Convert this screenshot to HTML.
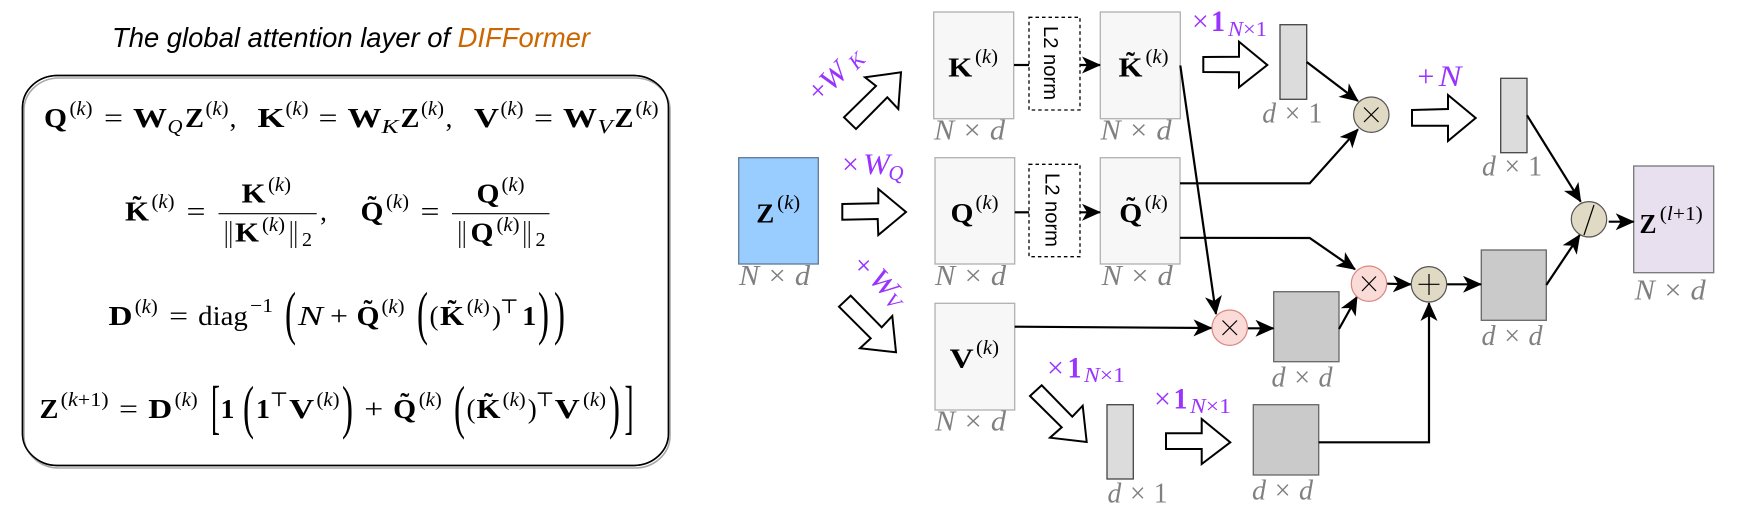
<!DOCTYPE html>
<html><head><meta charset="utf-8"><style>
html,body{margin:0;padding:0;background:#fff}
svg{display:block}
text{font-family:"Liberation Serif","DejaVu Serif",serif;text-anchor:middle;fill:#000}
.b{font-weight:bold;font-size:27px}
.o{font-size:27px}
.s{font-size:20px}
.d{font-size:59px;text-anchor:start}
.g{font-size:28px;font-style:italic;fill:#808080;text-anchor:start}
.p{fill:#9933ff;font-size:30px}
.ps{fill:#9933ff;font-size:21px}
.i{font-style:italic}
.f{fill:#fff;stroke:#000;stroke-width:2}
.c{fill:none;stroke:#000;stroke-width:2.2}
</style></head><body>
<svg width="1738" height="520" viewBox="0 0 1738 520" xmlns="http://www.w3.org/2000/svg">
<defs>
<marker id="a" markerUnits="userSpaceOnUse" markerWidth="22" markerHeight="20" refX="18" refY="8.5" orient="auto"><path d="M19,8.5 L0,0 L5,8.5 L0,17 z" fill="#000"/></marker>
</defs>

<!-- title -->
<text x="112" y="47" style="text-anchor:start;font-family:'Liberation Sans',sans-serif;font-style:italic;font-size:27.4px">The global attention layer of <tspan fill="#cc6600">DIFFormer</tspan></text>

<!-- rounded box -->
<rect x="22.5" y="75.5" width="646" height="390" rx="35" ry="32" fill="#fff" stroke="#000" stroke-width="1.6"/>
<rect x="24" y="78" width="646" height="390" rx="35" ry="32" fill="none" stroke="#a8a8a8" stroke-width="1.6"/>
<rect x="22.5" y="75.5" width="646" height="390" rx="35" ry="32" fill="none" stroke="#000" stroke-width="1.4"/>

<!-- row 1 -->
<text class="b" x="55.5" y="127" textLength="23" lengthAdjust="spacingAndGlyphs">Q</text><text class="s" x="81" y="115" textLength="23" lengthAdjust="spacingAndGlyphs">(<tspan class="i">k</tspan>)</text>
<text class="o" x="113.5" y="127" textLength="19" lengthAdjust="spacingAndGlyphs">=</text>
<text class="b" x="150" y="127" textLength="34" lengthAdjust="spacingAndGlyphs">W</text><text class="s i" x="175" y="133" textLength="15" lengthAdjust="spacingAndGlyphs">Q</text>
<text class="b" x="194.5" y="127" textLength="19" lengthAdjust="spacingAndGlyphs">Z</text><text class="s" x="217" y="115" textLength="23" lengthAdjust="spacingAndGlyphs">(<tspan class="i">k</tspan>)</text><text class="o" x="233" y="127">,</text>
<text class="b" x="271" y="127" textLength="27" lengthAdjust="spacingAndGlyphs">K</text><text class="s" x="297" y="115" textLength="23" lengthAdjust="spacingAndGlyphs">(<tspan class="i">k</tspan>)</text>
<text class="o" x="328" y="127" textLength="19" lengthAdjust="spacingAndGlyphs">=</text>
<text class="b" x="364.5" y="127" textLength="34" lengthAdjust="spacingAndGlyphs">W</text><text class="s i" x="390" y="133" textLength="17" lengthAdjust="spacingAndGlyphs">K</text>
<text class="b" x="410" y="127" textLength="19" lengthAdjust="spacingAndGlyphs">Z</text><text class="s" x="432.5" y="115" textLength="23" lengthAdjust="spacingAndGlyphs">(<tspan class="i">k</tspan>)</text><text class="o" x="449" y="127">,</text>
<text class="b" x="486.5" y="127" textLength="25" lengthAdjust="spacingAndGlyphs">V</text><text class="s" x="512" y="115" textLength="23" lengthAdjust="spacingAndGlyphs">(<tspan class="i">k</tspan>)</text>
<text class="o" x="543.5" y="127" textLength="19" lengthAdjust="spacingAndGlyphs">=</text>
<text class="b" x="580" y="127" textLength="34" lengthAdjust="spacingAndGlyphs">W</text><text class="s i" x="605" y="133" textLength="15" lengthAdjust="spacingAndGlyphs">V</text>
<text class="b" x="624" y="127" textLength="19" lengthAdjust="spacingAndGlyphs">Z</text><text class="s" x="647" y="115" textLength="23" lengthAdjust="spacingAndGlyphs">(<tspan class="i">k</tspan>)</text>

<!-- row 2 -->
<text class="b" x="137" y="220.7" textLength="24" lengthAdjust="spacingAndGlyphs">K</text><text class="b" x="137" y="215">˜</text><text class="s" x="163" y="208" textLength="23" lengthAdjust="spacingAndGlyphs">(<tspan class="i">k</tspan>)</text>
<text class="o" x="196" y="220.7" textLength="19" lengthAdjust="spacingAndGlyphs">=</text>
<text class="b" x="253.5" y="202.7" textLength="24" lengthAdjust="spacingAndGlyphs">K</text><text class="s" x="279.5" y="191" textLength="23" lengthAdjust="spacingAndGlyphs">(<tspan class="i">k</tspan>)</text>
<line x1="218.5" y1="213.7" x2="316.7" y2="213.7" stroke="#000" stroke-width="1.2"/>
<text style="font-size:30px" x="228.5" y="241.7" textLength="9" lengthAdjust="spacingAndGlyphs">||</text><text class="b" x="247" y="241.7" textLength="24" lengthAdjust="spacingAndGlyphs">K</text><text class="s" x="273.5" y="231" textLength="23" lengthAdjust="spacingAndGlyphs">(<tspan class="i">k</tspan>)</text><text style="font-size:30px" x="293.5" y="241.7" textLength="9" lengthAdjust="spacingAndGlyphs">||</text><text class="s" x="307" y="246">2</text>
<text class="o" x="323.5" y="220.7">,</text>
<text class="b" x="372" y="220.7" textLength="23" lengthAdjust="spacingAndGlyphs">Q</text><text class="b" x="372" y="215">˜</text><text class="s" x="397.5" y="208" textLength="23" lengthAdjust="spacingAndGlyphs">(<tspan class="i">k</tspan>)</text>
<text class="o" x="430" y="220.7" textLength="19" lengthAdjust="spacingAndGlyphs">=</text>
<text class="b" x="488" y="202.7" textLength="23" lengthAdjust="spacingAndGlyphs">Q</text><text class="s" x="513" y="191" textLength="23" lengthAdjust="spacingAndGlyphs">(<tspan class="i">k</tspan>)</text>
<line x1="452" y1="213.7" x2="549.5" y2="213.7" stroke="#000" stroke-width="1.2"/>
<text style="font-size:30px" x="462" y="241.7" textLength="9" lengthAdjust="spacingAndGlyphs">||</text><text class="b" x="482" y="241.7" textLength="23" lengthAdjust="spacingAndGlyphs">Q</text><text class="s" x="508" y="231" textLength="23" lengthAdjust="spacingAndGlyphs">(<tspan class="i">k</tspan>)</text><text style="font-size:30px" x="527" y="241.7" textLength="9" lengthAdjust="spacingAndGlyphs">||</text><text class="s" x="540.5" y="246">2</text>

<!-- row 3 -->
<text class="b" x="120.5" y="325" textLength="24" lengthAdjust="spacingAndGlyphs">D</text><text class="s" x="146.3" y="313" textLength="23" lengthAdjust="spacingAndGlyphs">(<tspan class="i">k</tspan>)</text>
<text class="o" x="178.7" y="325" textLength="19" lengthAdjust="spacingAndGlyphs">=</text>
<text class="o" x="223" y="325" textLength="49.6" lengthAdjust="spacingAndGlyphs">diag</text>
<text class="s" x="261.5" y="312" textLength="23" lengthAdjust="spacingAndGlyphs">−1</text>
<text class="d" x="285" y="333" textLength="11" lengthAdjust="spacingAndGlyphs">(</text>
<text class="o i" x="310.5" y="325" textLength="25" lengthAdjust="spacingAndGlyphs">N</text>
<text class="o" x="339" y="325" textLength="18" lengthAdjust="spacingAndGlyphs">+</text>
<text class="b" x="368" y="325" textLength="23" lengthAdjust="spacingAndGlyphs">Q</text><text class="b" x="368" y="319">˜</text><text class="s" x="393" y="313" textLength="23" lengthAdjust="spacingAndGlyphs">(<tspan class="i">k</tspan>)</text>
<text class="d" x="417" y="333" textLength="11" lengthAdjust="spacingAndGlyphs">(</text>
<text class="o" x="434" y="325">(</text>
<text class="b" x="452" y="325" textLength="24" lengthAdjust="spacingAndGlyphs">K</text><text class="b" x="452" y="319">˜</text><text class="s" x="478.3" y="313" textLength="23" lengthAdjust="spacingAndGlyphs">(<tspan class="i">k</tspan>)</text>
<text class="o" x="496.5" y="325">)</text>
<text class="s" x="509.3" y="313">⊤</text>
<text class="b" x="529.3" y="325" textLength="14" lengthAdjust="spacingAndGlyphs">1</text>
<text class="d" x="538" y="333" textLength="11" lengthAdjust="spacingAndGlyphs">)</text>
<text class="d" x="554" y="333" textLength="11" lengthAdjust="spacingAndGlyphs">)</text>

<!-- row 4 -->
<text class="b" x="49" y="418" textLength="19" lengthAdjust="spacingAndGlyphs">Z</text><text class="s" x="84.6" y="406" textLength="48" lengthAdjust="spacingAndGlyphs">(<tspan class="i">k</tspan>+1)</text>
<text class="o" x="128.5" y="418" textLength="19" lengthAdjust="spacingAndGlyphs">=</text>
<text class="b" x="160.3" y="418" textLength="24" lengthAdjust="spacingAndGlyphs">D</text><text class="s" x="186.2" y="406" textLength="23" lengthAdjust="spacingAndGlyphs">(<tspan class="i">k</tspan>)</text>
<text class="d" x="211" y="427" textLength="9" lengthAdjust="spacingAndGlyphs">[</text>
<text class="b" x="227.5" y="418" textLength="14" lengthAdjust="spacingAndGlyphs">1</text>
<text class="d" x="243" y="427" textLength="11" lengthAdjust="spacingAndGlyphs">(</text>
<text class="b" x="263" y="418" textLength="14" lengthAdjust="spacingAndGlyphs">1</text><text class="s" x="279" y="406">⊤</text>
<text class="b" x="301.7" y="418" textLength="25" lengthAdjust="spacingAndGlyphs">V</text><text class="s" x="328" y="406" textLength="23" lengthAdjust="spacingAndGlyphs">(<tspan class="i">k</tspan>)</text>
<text class="d" x="342" y="427" textLength="11" lengthAdjust="spacingAndGlyphs">)</text>
<text class="o" x="373.8" y="418" textLength="19" lengthAdjust="spacingAndGlyphs">+</text>
<text class="b" x="404.7" y="418" textLength="23" lengthAdjust="spacingAndGlyphs">Q</text><text class="b" x="404.7" y="412">˜</text><text class="s" x="430.3" y="406" textLength="23" lengthAdjust="spacingAndGlyphs">(<tspan class="i">k</tspan>)</text>
<text class="d" x="454" y="427" textLength="11" lengthAdjust="spacingAndGlyphs">(</text>
<text class="o" x="471" y="418">(</text>
<text class="b" x="488.5" y="418" textLength="24" lengthAdjust="spacingAndGlyphs">K</text><text class="b" x="488.5" y="412">˜</text><text class="s" x="514.2" y="406" textLength="23" lengthAdjust="spacingAndGlyphs">(<tspan class="i">k</tspan>)</text>
<text class="o" x="532.3" y="418">)</text>
<text class="s" x="545" y="406">⊤</text>
<text class="b" x="567.3" y="418" textLength="25" lengthAdjust="spacingAndGlyphs">V</text><text class="s" x="594.5" y="406" textLength="23" lengthAdjust="spacingAndGlyphs">(<tspan class="i">k</tspan>)</text>
<text class="d" x="609" y="427" textLength="11" lengthAdjust="spacingAndGlyphs">)</text>
<text class="d" x="624.5" y="427" textLength="9" lengthAdjust="spacingAndGlyphs">]</text>

<!-- boxes -->
<g stroke-width="1.3">
<rect x="738.7" y="157.7" width="79.6" height="106.3" fill="#99ccff" stroke="#5f7a96"/>
<rect x="933.7" y="12" width="80" height="106.7" fill="#f7f7f7" stroke="#b0b0b0"/>
<rect x="1100.3" y="12" width="80" height="106.7" fill="#f7f7f7" stroke="#b0b0b0"/>
<rect x="935" y="157.7" width="79.7" height="106.3" fill="#f7f7f7" stroke="#b0b0b0"/>
<rect x="1100.3" y="157.7" width="79.7" height="106.3" fill="#f7f7f7" stroke="#b0b0b0"/>
<rect x="935" y="303.3" width="79.7" height="106.7" fill="#f7f7f7" stroke="#b0b0b0"/>
<rect x="1029" y="17.3" width="51" height="92.7" fill="#fff" stroke="#000" stroke-dasharray="3.5 3"/>
<rect x="1029" y="164.3" width="51" height="92.4" fill="#fff" stroke="#000" stroke-dasharray="3.5 3"/>
<rect x="1280" y="24.7" width="26.7" height="74.6" fill="#dcdcdc" stroke="#444"/>
<rect x="1500.7" y="78.3" width="26.3" height="74.4" fill="#dcdcdc" stroke="#444"/>
<rect x="1107" y="404.7" width="26.3" height="74.3" fill="#dcdcdc" stroke="#444"/>
<rect x="1273.7" y="291.7" width="65.3" height="70" fill="#cacaca" stroke="#666"/>
<rect x="1253.3" y="404.7" width="65.4" height="70.3" fill="#cacaca" stroke="#666"/>
<rect x="1481.3" y="250" width="65" height="70.3" fill="#cacaca" stroke="#666"/>
<rect x="1633.7" y="166" width="80" height="106.7" fill="#e8e0ef" stroke="#777"/>
</g>

<text x="1044" y="26" transform="rotate(90 1044 26)" style="text-anchor:start;font-family:'Liberation Sans',sans-serif;font-size:20px" textLength="74" lengthAdjust="spacingAndGlyphs">L2 norm</text>
<text x="1045.7" y="173" transform="rotate(90 1045.7 173)" style="text-anchor:start;font-family:'Liberation Sans',sans-serif;font-size:20px" textLength="74" lengthAdjust="spacingAndGlyphs">L2 norm</text>

<!-- box labels -->
<text class="b" x="765.3" y="222.7" textLength="18" lengthAdjust="spacingAndGlyphs">Z</text><text class="s" x="788.7" y="209" textLength="23" lengthAdjust="spacingAndGlyphs">(<tspan class="i">k</tspan>)</text>
<text class="b" x="960.3" y="76.7" textLength="24" lengthAdjust="spacingAndGlyphs">K</text><text class="s" x="986.5" y="63" textLength="23" lengthAdjust="spacingAndGlyphs">(<tspan class="i">k</tspan>)</text>
<text class="b" x="1130.5" y="76.7" textLength="24" lengthAdjust="spacingAndGlyphs">K</text><text class="b" x="1130.5" y="71">˜</text><text class="s" x="1157" y="63" textLength="23" lengthAdjust="spacingAndGlyphs">(<tspan class="i">k</tspan>)</text>
<text class="b" x="962" y="222" textLength="23" lengthAdjust="spacingAndGlyphs">Q</text><text class="s" x="987" y="209" textLength="23" lengthAdjust="spacingAndGlyphs">(<tspan class="i">k</tspan>)</text>
<text class="b" x="1130.8" y="222" textLength="23" lengthAdjust="spacingAndGlyphs">Q</text><text class="b" x="1130.8" y="216">˜</text><text class="s" x="1156.3" y="209" textLength="23" lengthAdjust="spacingAndGlyphs">(<tspan class="i">k</tspan>)</text>
<text class="b" x="961.7" y="367.3" textLength="24" lengthAdjust="spacingAndGlyphs">V</text><text class="s" x="987.5" y="354" textLength="23" lengthAdjust="spacingAndGlyphs">(<tspan class="i">k</tspan>)</text>
<text class="b" x="1648" y="233" textLength="17" lengthAdjust="spacingAndGlyphs">Z</text><text class="s" x="1681.3" y="220" textLength="43" lengthAdjust="spacingAndGlyphs">(<tspan class="i">l</tspan>+1)</text>

<!-- dimension labels -->
<text class="g" x="934" y="139.3" textLength="71" lengthAdjust="spacingAndGlyphs">N × d</text>
<text class="g" x="1100.5" y="139.3" textLength="71" lengthAdjust="spacingAndGlyphs">N × d</text>
<text class="g" x="739" y="285" textLength="71" lengthAdjust="spacingAndGlyphs">N × d</text>
<text class="g" x="935" y="285" textLength="71" lengthAdjust="spacingAndGlyphs">N × d</text>
<text class="g" x="1101.7" y="285" textLength="71" lengthAdjust="spacingAndGlyphs">N × d</text>
<text class="g" x="935" y="430.7" textLength="71" lengthAdjust="spacingAndGlyphs">N × d</text>
<text class="g" x="1634.7" y="299.3" textLength="71" lengthAdjust="spacingAndGlyphs">N × d</text>
<text class="g" x="1262.3" y="122.7" textLength="60" lengthAdjust="spacingAndGlyphs">d × <tspan font-style="normal">1</tspan></text>
<text class="g" x="1482" y="175.7" textLength="60" lengthAdjust="spacingAndGlyphs">d × <tspan font-style="normal">1</tspan></text>
<text class="g" x="1107.5" y="502.3" textLength="60" lengthAdjust="spacingAndGlyphs">d × <tspan font-style="normal">1</tspan></text>
<text class="g" x="1481.5" y="345" textLength="61" lengthAdjust="spacingAndGlyphs">d × d</text>
<text class="g" x="1271.5" y="386.7" textLength="61" lengthAdjust="spacingAndGlyphs">d × d</text>
<text class="g" x="1252" y="499.3" textLength="61" lengthAdjust="spacingAndGlyphs">d × d</text>

<!-- block arrows -->
<polygon class="f" points="844,117.3 876,86 865,77.3 901,72.3 898.3,109 887.3,97.3 856,129"/>
<polygon class="f" points="842.3,204 878.3,203.3 878.3,189 906,212 878.3,235 877.7,219 842.3,219.7"/>
<polygon class="f" points="839,306.7 850.7,295.7 881.7,327.3 892.3,316 896,352.3 860,348.3 870.7,338.3"/>
<polygon class="f" points="1030,396 1041.7,385.3 1072.3,416.7 1082.7,405.7 1086.7,442 1050,437.7 1061.7,427.3"/>
<polygon class="f" points="1166,433.3 1201.7,433.3 1201.7,419 1230.3,442.3 1201.7,464 1201.7,449 1166,449"/>
<polygon class="f" points="1203.3,57 1239,56.7 1239,41.7 1267.3,65 1239,87.3 1239,72.3 1203.3,72"/>
<polygon class="f" points="1412,110 1448,109 1448,95 1475.7,118 1448,141 1448,125.7 1412,125.7"/>

<!-- connectors -->
<line class="c" x1="1014" y1="65" x2="1029" y2="65"/>
<line class="c" x1="1080" y1="65" x2="1100" y2="65" marker-end="url(#a)"/>
<line class="c" x1="1014.7" y1="212.3" x2="1029" y2="212.3"/>
<line class="c" x1="1080" y1="212.3" x2="1100" y2="212.3" marker-end="url(#a)"/>
<line class="c" x1="1180.3" y1="65.5" x2="1216" y2="314" marker-end="url(#a)"/>
<path class="c" d="M1180,183.3 L1309.7,183.3 L1358,129.3" marker-end="url(#a)"/>
<path class="c" d="M1180,237.8 L1309.7,238 L1355,269.3" marker-end="url(#a)"/>
<line class="c" x1="1306.7" y1="62" x2="1358" y2="101" marker-end="url(#a)"/>
<line class="c" x1="1014.7" y1="326.7" x2="1211.5" y2="328" marker-end="url(#a)"/>
<line class="c" x1="1248" y1="328.3" x2="1273.5" y2="328.3" marker-end="url(#a)"/>
<line class="c" x1="1339" y1="329" x2="1357" y2="296.7" marker-end="url(#a)"/>
<line class="c" x1="1387" y1="283.7" x2="1411" y2="284.3" marker-end="url(#a)"/>
<line class="c" x1="1447" y1="284.3" x2="1481" y2="284.3" marker-end="url(#a)"/>
<path class="c" d="M1318.7,442.3 L1429,442.3 L1429,303" marker-end="url(#a)"/>
<line class="c" x1="1527" y1="115.3" x2="1580.7" y2="201.7" marker-end="url(#a)"/>
<line class="c" x1="1546.3" y1="285" x2="1579.7" y2="235" marker-end="url(#a)"/>
<line class="c" x1="1608.7" y1="221.7" x2="1633.7" y2="221.7" marker-end="url(#a)"/>

<!-- operators -->
<g stroke-width="1.2">
<circle cx="1371.3" cy="114.7" r="17.7" fill="#e0d9c3" stroke="#555"/>
<path d="M1364,107.5 L1378.5,122 M1378.5,107.5 L1364,122" stroke="#000" fill="none"/>
<circle cx="1589" cy="219.3" r="17.7" fill="#e0d9c3" stroke="#555"/>
<path d="M1584,235 L1594,205" stroke="#000" fill="none"/>
<circle cx="1429" cy="284.3" r="17.7" fill="#e0d9c3" stroke="#555"/>
<path d="M1418.5,284.3 H1439.5 M1429,274 V295" stroke="#000" fill="none"/>
<circle cx="1369" cy="283.7" r="17.7" fill="#fadbd8" stroke="#d98880"/>
<path d="M1362,276.5 L1376,291 M1376,276.5 L1362,291" stroke="#000" fill="none"/>
<circle cx="1229.7" cy="327.7" r="17.7" fill="#fadbd8" stroke="#d98880"/>
<path d="M1222.5,320.5 L1237,335 M1237,320.5 L1222.5,335" stroke="#000" fill="none"/>
</g>

<!-- purple labels -->
<g transform="translate(819.3 91.7) rotate(-45)"><text class="p" x="0" y="8">+</text></g>
<g transform="translate(833.3 76) rotate(-45)"><text class="p i" x="0" y="10" textLength="27" lengthAdjust="spacingAndGlyphs">W</text></g>
<g transform="translate(856.7 60.7) rotate(-45)"><text class="ps i" x="0" y="7">K</text></g>
<text class="p" x="850.5" y="174">×</text><text class="p i" x="876.5" y="174" textLength="27" lengthAdjust="spacingAndGlyphs">W</text><text class="ps i" x="896" y="180">Q</text>
<g transform="translate(862.3 266.7) rotate(47)"><text class="p" x="0" y="8">+</text></g>
<g transform="translate(884 282.7) rotate(47)"><text class="p i" x="0" y="10" textLength="27" lengthAdjust="spacingAndGlyphs">W</text></g>
<g transform="translate(893 301) rotate(47)"><text class="ps i" x="0" y="7">V</text></g>
<text class="p" x="1200.3" y="31">×</text><text class="p" x="1218" y="31" font-weight="bold" textLength="14" lengthAdjust="spacingAndGlyphs">1</text><text class="ps" x="1247.5" y="36" textLength="39" lengthAdjust="spacingAndGlyphs"><tspan class="i">N</tspan>×1</text>
<text class="p" x="1055.5" y="377.3">×</text><text class="p" x="1074.5" y="377.3" font-weight="bold" textLength="14" lengthAdjust="spacingAndGlyphs">1</text><text class="ps" x="1104.5" y="382" textLength="41" lengthAdjust="spacingAndGlyphs"><tspan class="i">N</tspan>×1</text>
<text class="p" x="1162.5" y="408.3">×</text><text class="p" x="1180.5" y="408.3" font-weight="bold" textLength="14" lengthAdjust="spacingAndGlyphs">1</text><text class="ps" x="1210.5" y="413" textLength="41" lengthAdjust="spacingAndGlyphs"><tspan class="i">N</tspan>×1</text>
<text class="p" x="1425.8" y="86">+</text><text class="p i" x="1450" y="86" textLength="23" lengthAdjust="spacingAndGlyphs">N</text>
</svg>
</body></html>
